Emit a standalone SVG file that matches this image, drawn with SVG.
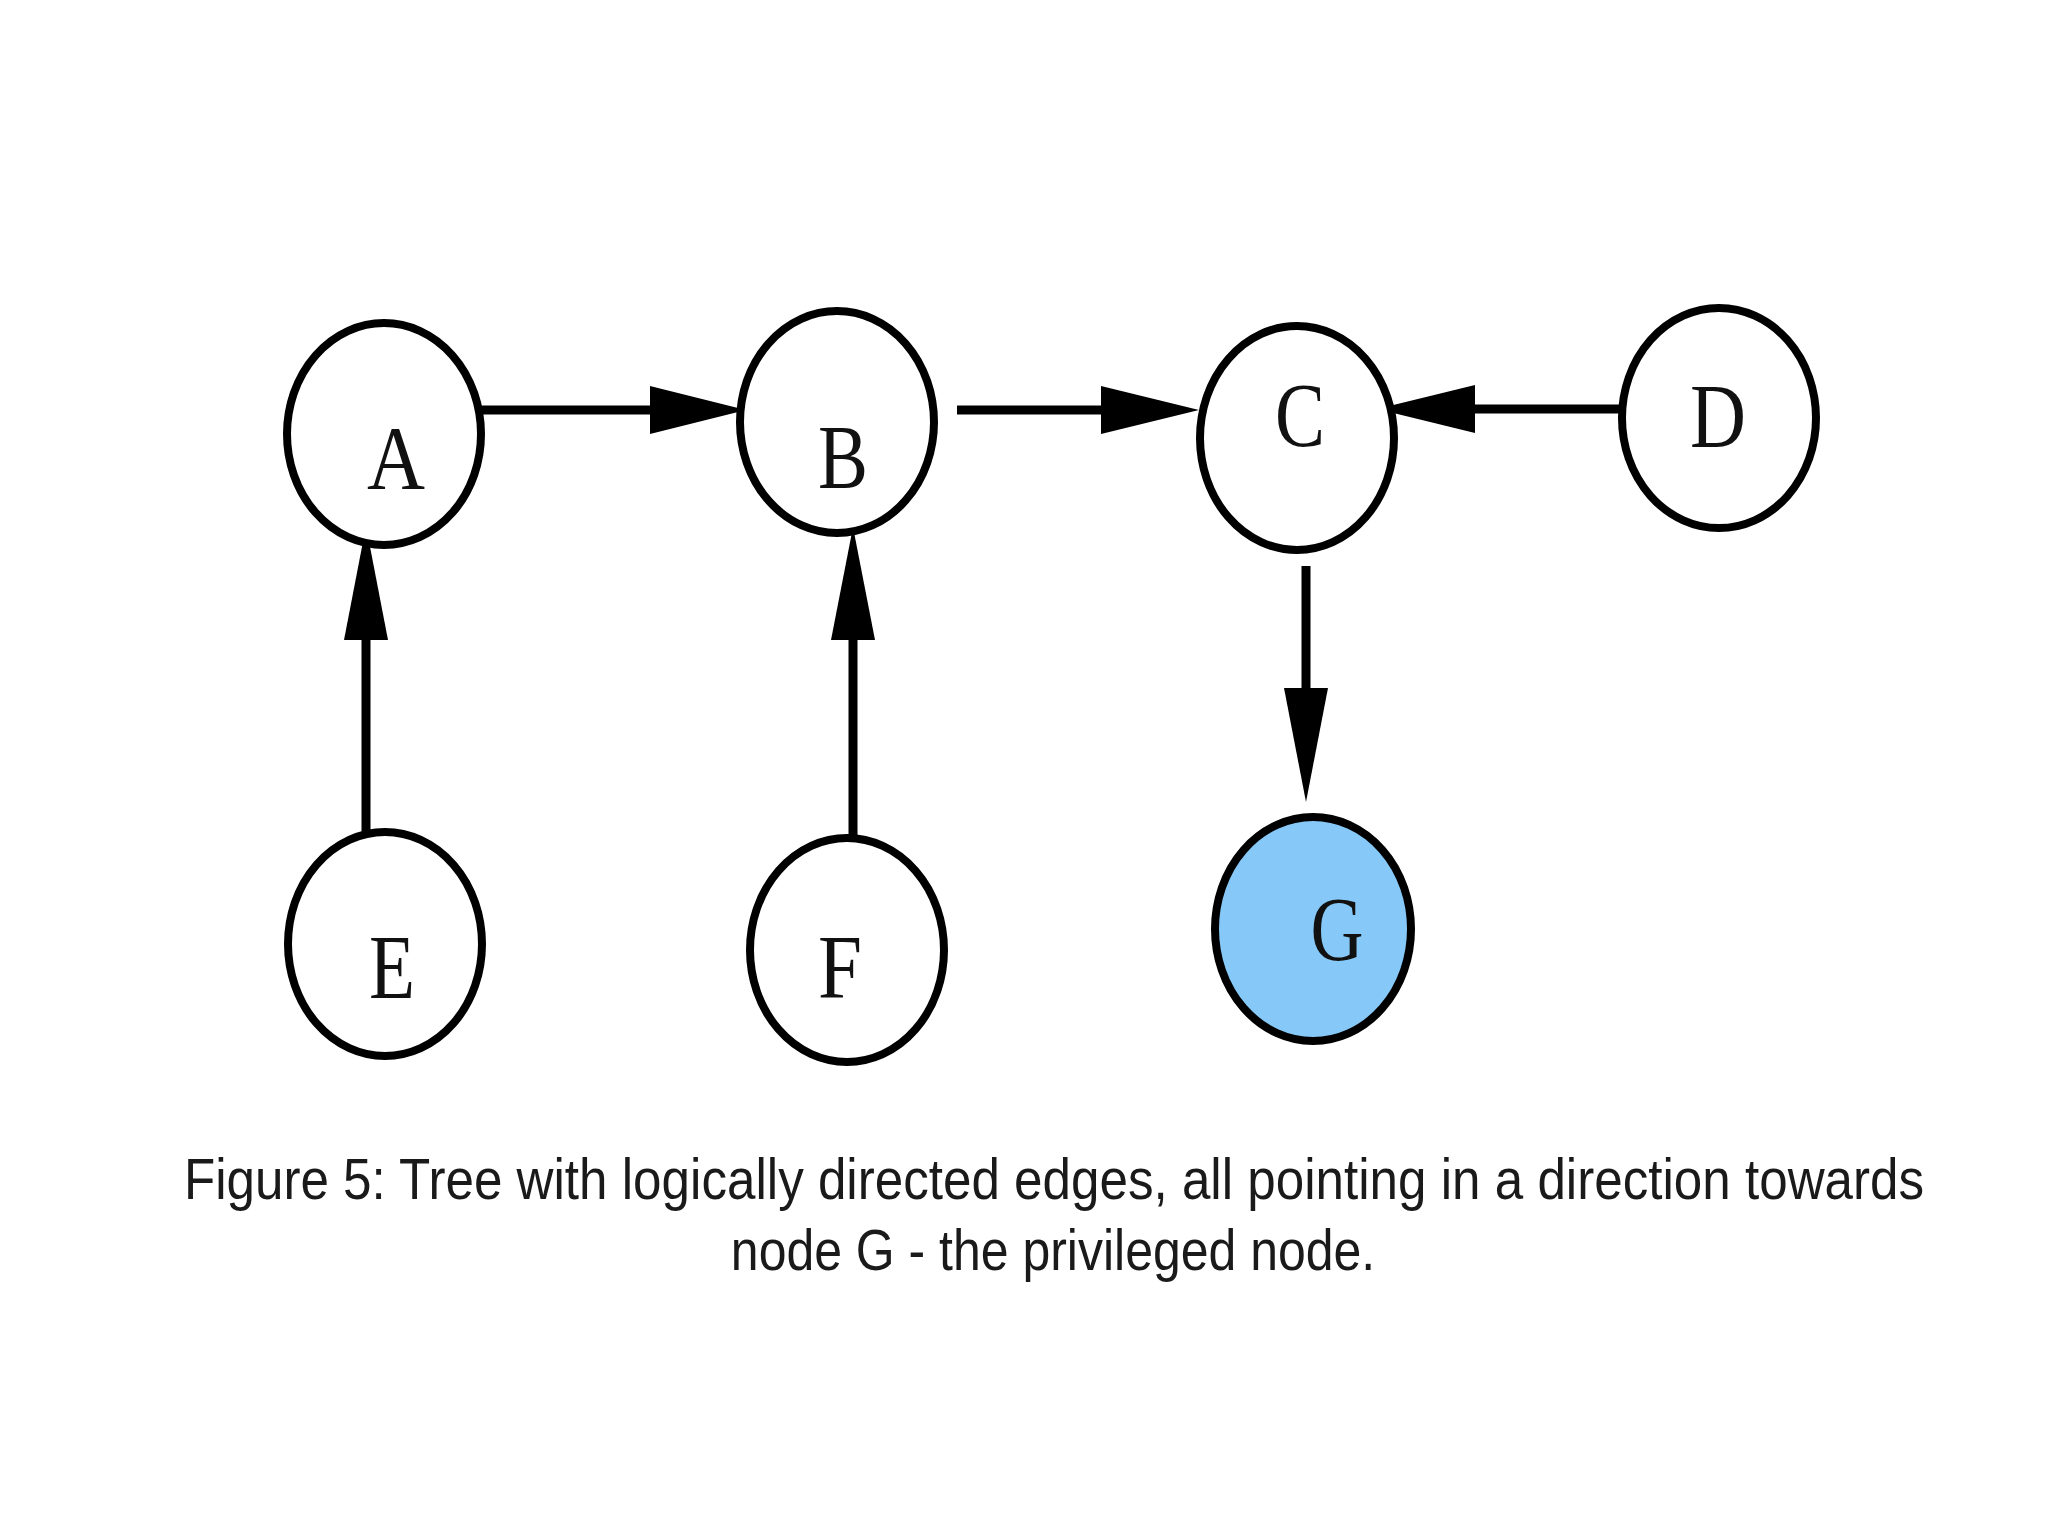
<svg xmlns="http://www.w3.org/2000/svg" width="2048" height="1536" viewBox="0 0 2048 1536">
<style>
.node{fill:#fff;stroke:#000;stroke-width:8}
.priv{fill:#86C9F8}
.lbl{font-family:"Liberation Serif","Times New Roman",serif;font-size:92px;fill:#111;text-anchor:middle}
.edge{stroke:#000;stroke-width:9;fill:none}
.head{fill:#000}
.cap{font-family:"Liberation Sans",Arial,sans-serif;font-size:58px;fill:#1a1a1a;text-anchor:middle}
</style>
<rect width="2048" height="1536" fill="#fff"/>
<g id="connectors">
<line class="edge" x1="469" y1="410" x2="660" y2="410"/>
<polygon class="head" points="650,386 746,410 650,434"/>
<line class="edge" x1="957" y1="410" x2="1110" y2="410"/>
<polygon class="head" points="1101,386 1199,410 1101,434"/>
<line class="edge" x1="1619" y1="409" x2="1465" y2="409"/>
<polygon class="head" points="1475,385 1377,409 1475,433"/>
<line class="edge" x1="1306" y1="566" x2="1306" y2="700"/>
<polygon class="head" points="1284,688 1328,688 1306,802"/>
<line class="edge" x1="366" y1="840" x2="366" y2="630"/>
<polygon class="head" points="344,640 388,640 366,526"/>
<line class="edge" x1="853" y1="837" x2="853" y2="630"/>
<polygon class="head" points="831,640 875,640 853,527"/>
</g>
<g id="node-A"><ellipse class="node" cx="384" cy="434" rx="97" ry="111"/><text class="lbl" x="396" y="489" textLength="58" lengthAdjust="spacingAndGlyphs">A</text></g>
<g id="node-B"><ellipse class="node" cx="837" cy="422" rx="97" ry="111"/><text class="lbl" x="843" y="488" textLength="50" lengthAdjust="spacingAndGlyphs">B</text></g>
<g id="node-C"><ellipse class="node" cx="1297" cy="438" rx="97" ry="112"/><text class="lbl" x="1300" y="446" textLength="50" lengthAdjust="spacingAndGlyphs">C</text></g>
<g id="node-D"><ellipse class="node" cx="1719" cy="418" rx="97" ry="110"/><text class="lbl" x="1718" y="447" textLength="56" lengthAdjust="spacingAndGlyphs">D</text></g>
<g id="node-E"><ellipse class="node" cx="385" cy="944" rx="97" ry="112"/><text class="lbl" x="392" y="998" textLength="46" lengthAdjust="spacingAndGlyphs">E</text></g>
<g id="node-F"><ellipse class="node" cx="847" cy="950" rx="97" ry="112"/><text class="lbl" x="840" y="998" textLength="44" lengthAdjust="spacingAndGlyphs">F</text></g>
<g id="node-G"><ellipse class="node priv" cx="1313" cy="929" rx="98" ry="112"/><text class="lbl" x="1337" y="960" textLength="53" lengthAdjust="spacingAndGlyphs">G</text></g>
<g id="caption">
<text class="cap" transform="translate(1054,1199) scale(0.78,1)" x="0" y="0" textLength="2231" lengthAdjust="spacingAndGlyphs">Figure 5: Tree with logically directed edges, all pointing in a direction towards</text>
<text class="cap" transform="translate(1053,1270) scale(0.78,1)" x="0" y="0" textLength="826" lengthAdjust="spacingAndGlyphs">node G - the privileged node.</text>
</g>
</svg>
